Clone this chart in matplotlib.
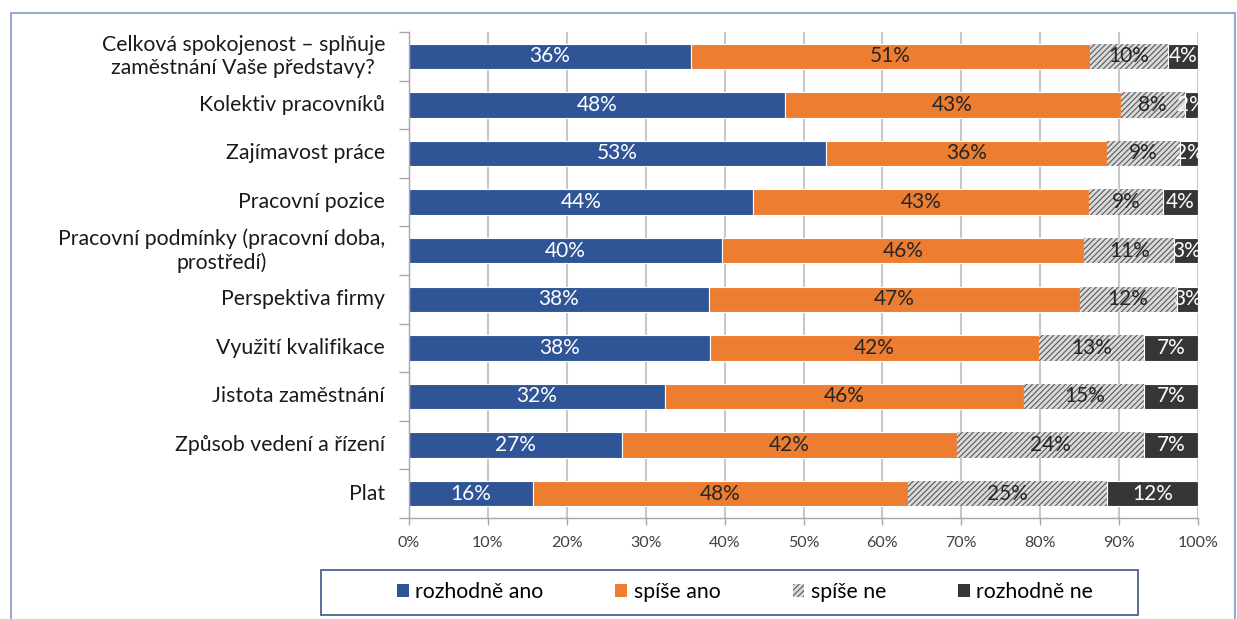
import numpy as np
import matplotlib
matplotlib.use("Agg")
import matplotlib.pyplot as plt
import matplotlib.transforms as mtransforms
from matplotlib.patches import Rectangle, Patch

plt.rcParams['font.family'] = ['Lato', 'DejaVu Sans']
plt.rcParams['hatch.linewidth'] = 0.8

# data (percent of respondents), top row first
categories = ["Celková spokojenost – splňuje\nzaměstnání Vaše představy?",
              "Kolektiv pracovníků",
              "Zajímavost práce",
              "Pracovní pozice",
              "Pracovní podmínky (pracovní doba,\nprostředí)",
              "Perspektiva firmy",
              "Využití kvalifikace",
              "Jistota zaměstnání",
              "Způsob vedení a řízení",
              "Plat"]
rozhodne_ano = [35.7, 47.6, 52.9, 43.6, 39.7, 38.0, 38.1, 32.4, 27.0, 15.7]
spise_ano = [50.6, 42.6, 35.6, 42.6, 45.9, 47.0, 41.8, 45.6, 42.4, 47.6]
spise_ne = [9.9, 8.1, 9.2, 9.4, 11.4, 12.3, 13.2, 15.2, 23.8, 25.2]
rozhodne_ne = [3.8, 1.7, 2.3, 4.4, 3.0, 2.7, 6.9, 6.8, 6.8, 11.5]
series_names = ["rozhodně ano", "spíše ano", "spíše ne", "rozhodně ne"]
xticks = [0, 10, 20, 30, 40, 50, 60, 70, 80, 90, 100]

blue = '#2F5597'
orange = '#ED7D31'
gray = '#DADADA'
dark = '#363636'
hatch_c = '#5a5a5a'

fig = plt.figure(figsize=(12.37, 6.19), dpi=100)
ax = fig.add_axes([409/1237, 1-518/619, (1198-409)/1237, (518-32)/619])

y = np.arange(len(categories))
h = 0.52
series = [rozhodne_ano, spise_ano, spise_ne, rozhodne_ne]
left = np.zeros(len(categories))
for i, vals in enumerate(series):
    vals = np.array(vals)
    if i == 2:
        ax.barh(y, vals, left=left, height=h, color=gray, edgecolor=hatch_c,
                linewidth=0, hatch='//////', zorder=2)
    else:
        c = [blue, orange, None, dark][i]
        ax.barh(y, vals, left=left, height=h, color=c, edgecolor='white',
                linewidth=0.8, zorder=2)
    tc = ['white', '#262626', '#262626', 'white'][i]
    for yy, l, v in zip(y, left, vals):
        ax.text(l + v/2, yy, f"{round(v)}%", ha='center', va='center', color=tc,
                fontsize=15, zorder=3, clip_on=True)
    left = left + vals

ax.set_xlim(0, 100)
ax.set_ylim(len(categories) - 0.5, -0.5)
ax.set_xticks(xticks)
ax.set_xticklabels([f"{t}%" for t in xticks], fontsize=11.5, color='#404040')
ax.set_yticks(y)
ax.set_yticklabels([])
ax.set_yticks(np.arange(len(categories) + 1) - 0.5, minor=True)
ax.tick_params(axis='y', which='major', length=0)
ax.tick_params(axis='y', which='minor', length=7, color='#a6a6a6', width=1)
ax.tick_params(axis='x', length=5, color='#a6a6a6', width=1, pad=8)
ax.grid(axis='x', color='#c8c8c8', linewidth=1.5, zorder=0)
ax.set_axisbelow(True)
for s in ['top', 'right']:
    ax.spines[s].set_visible(False)
for s in ['left', 'bottom']:
    ax.spines[s].set_color('#a6a6a6')
    ax.spines[s].set_linewidth(1)

# category labels, multi-line ones centred like in the original
lab_tr = mtransforms.offset_copy(ax.get_yaxis_transform(), fig=fig, x=-24, y=0, units='dots')
for yy, cat in zip(y, categories):
    ax.text(0, yy, cat, transform=lab_tr, ha='right', va='center',
            multialignment='center', fontsize=15.3, color='#1a1a1a', clip_on=False)

# legend with its own frame
fig.patches.append(Rectangle((321/1237, 1-615/619), (1138-321)/1237, 45/619,
                             transform=fig.transFigure, fill=False,
                             edgecolor='#4F6090', linewidth=1.3))
handles = [Patch(facecolor=blue), Patch(facecolor=orange),
           Patch(facecolor=gray, edgecolor=hatch_c, linewidth=0, hatch='//////'),
           Patch(facecolor=dark)]
fig.legend(handles, series_names, loc='center', bbox_to_anchor=(745/1237, 1-592/619),
           ncol=4, frameon=False, fontsize=15.3, handlelength=0.55, handleheight=0.55,
           handletextpad=0.3, columnspacing=3.4)

# outer chart frame
fig.patches.append(Rectangle((11/1237, -0.05), (1235-11)/1237, 1.05 - 13/619,
                             transform=fig.transFigure, fill=False,
                             edgecolor='#9AAACF', linewidth=1.5))

fig.savefig('out.png', dpi=100)
